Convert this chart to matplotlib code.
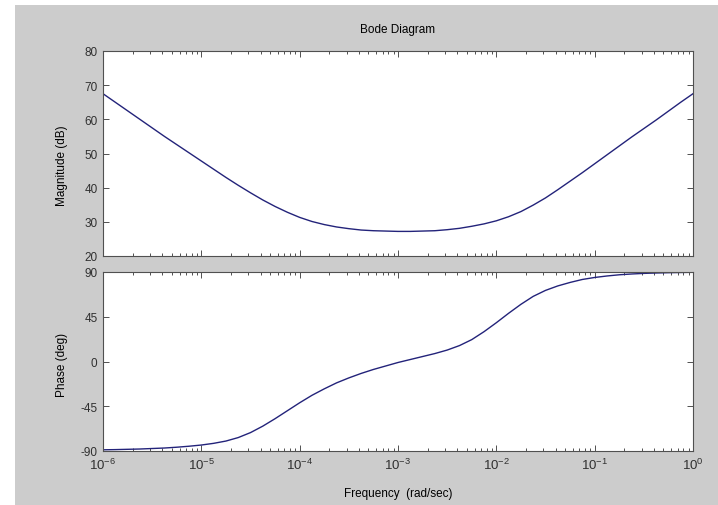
import numpy as np
import matplotlib
matplotlib.use('Agg')
import matplotlib.pyplot as plt
from matplotlib.patches import Rectangle
from matplotlib.ticker import LogLocator, NullFormatter

plt.rcParams['font.family'] = ['Liberation Sans', 'DejaVu Sans']
plt.rcParams['mathtext.fontset'] = 'custom'
plt.rcParams['mathtext.rm'] = 'Liberation Sans'
plt.rcParams['mathtext.it'] = 'Liberation Sans:italic'
plt.rcParams['axes.unicode_minus'] = False

# datos (log10 de la frecuencia en rad/sec)
log_w = [-6.0, -5.875, -5.75, -5.625, -5.5, -5.375, -5.25, -5.125, -5.0,
         -4.875, -4.75, -4.625, -4.5, -4.375, -4.25, -4.125, -4.0,
         -3.875, -3.75, -3.625, -3.5, -3.375, -3.25, -3.125, -3.0,
         -2.875, -2.75, -2.625, -2.5, -2.375, -2.25, -2.125, -2.0,
         -1.875, -1.75, -1.625, -1.5, -1.375, -1.25, -1.125, -1.0,
         -0.875, -0.75, -0.625, -0.5, -0.375, -0.25, -0.125, 0.0]
magnitud_db = [67.5, 65.0, 62.5, 60.0, 57.5, 55.0, 52.6, 50.2, 47.8,
               45.4, 43.0, 40.7, 38.5, 36.4, 34.5, 32.8, 31.3,
               30.1, 29.2, 28.5, 28.0, 27.6, 27.4, 27.3, 27.2,
               27.2, 27.3, 27.4, 27.7, 28.1, 28.7, 29.4, 30.3,
               31.5, 33.0, 34.9, 37.0, 39.4, 41.9, 44.4, 47.0,
               49.6, 52.2, 54.8, 57.3, 59.8, 62.4, 65.0, 67.5]
fase_deg = [-88.8, -88.6, -88.3, -88.0, -87.5, -87.0, -86.2, -85.2, -84.0,
            -82.3, -80.0, -76.5, -71.5, -65.0, -57.5, -49.5, -41.5,
            -34.0, -27.5, -21.5, -16.5, -12.0, -8.0, -4.5, -1.0,
            2.0, 5.0, 8.0, 11.5, 16.0, 22.0, 30.0, 39.0,
            48.5, 57.5, 65.5, 71.5, 76.0, 79.5, 82.5, 84.5,
            86.0, 87.2, 88.0, 88.6, 89.0, 89.3, 89.5, 89.7]

mag_ticks = [20, 30, 40, 50, 60, 70, 80]
fase_ticks = [-90, -45, 0, 45, 90]
dec_ticks = [-6, -5, -4, -3, -2, -1, 0]

frec = 10.0 ** np.array(log_w)

W, H = 718, 506
fig = plt.figure(figsize=(W / 100, H / 100), dpi=100, facecolor='white')
fig.patches.append(Rectangle((15 / W, 0), 1 - 15 / W, 1 - 6 / H, transform=fig.transFigure,
                             facecolor='#cccccc', edgecolor='none', zorder=-10))

izq, der = 103, 693
ax1 = fig.add_axes([izq / W, 1 - 257 / H, (der - izq) / W, (257 - 52) / H])
ax2 = fig.add_axes([izq / W, 1 - 452 / H, (der - izq) / W, (452 - 273) / H])

color_linea = '#23237a'
color_txt = '#303030'

ax1.plot(frec, magnitud_db, color=color_linea, lw=1.0)
ax2.plot(frec, fase_deg, color=color_linea, lw=1.0)

for ax in (ax1, ax2):
    ax.set_xscale('log')
    ax.set_xlim(1e-6, 1)
    ax.set_xticks([10.0 ** d for d in dec_ticks])
    ax.xaxis.set_minor_locator(LogLocator(base=10, subs=np.arange(2, 10)))
    ax.xaxis.set_minor_formatter(NullFormatter())
    ax.tick_params(which='both', direction='in', top=True, right=True, colors='#505050',
                   labelcolor=color_txt, labelsize=8.5, width=0.7)
    ax.tick_params(which='major', length=4.5, pad=4)
    ax.tick_params(which='minor', length=2.2)
    for s in ax.spines.values():
        s.set_color('#505050')
        s.set_linewidth(0.8)

ax1.set_ylim(20, 80)
ax1.set_yticks(mag_ticks)
ax1.set_xticklabels([])
ax2.set_ylim(-90, 90)
ax2.set_yticks(fase_ticks)
ax2.set_xticklabels([r'$10^{%d}$' % d for d in dec_ticks], fontsize=9.5)

fig.text(398 / W, 1 - 30 / H, 'Bode Diagram', ha='center', va='center', fontsize=8.5, color='black')
fig.text(62 / W, 1 - 166 / H, 'Magnitude (dB)', rotation=90, ha='center', va='center', fontsize=8.5)
fig.text(62 / W, 1 - 365 / H, 'Phase (deg)', rotation=90, ha='center', va='center', fontsize=8.5)
fig.text(398 / W, 1 - 494 / H, 'Frequency  (rad/sec)', ha='center', va='center', fontsize=8.5)

fig.savefig('out.png', dpi=100, facecolor=fig.get_facecolor())
